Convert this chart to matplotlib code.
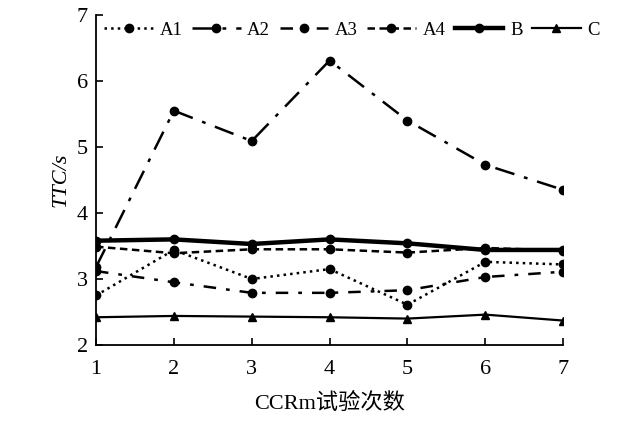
import numpy as np
import matplotlib
matplotlib.use("Agg")
import matplotlib.pyplot as plt

# ── data ──────────────────────────────────────────────────────────────────────
runs = [1, 2, 3, 4, 5, 6, 7]
a1 = [2.75, 3.44, 3.00, 3.15, 2.61, 3.26, 3.22]
a2 = [3.18, 5.55, 5.09, 6.31, 5.40, 4.73, 4.35]
a3 = [3.12, 2.95, 2.79, 2.79, 2.83, 3.03, 3.11]
a4 = [3.49, 3.39, 3.45, 3.45, 3.40, 3.47, 3.43]
b = [3.58, 3.60, 3.53, 3.60, 3.54, 3.44, 3.44]
c = [2.42, 2.44, 2.43, 2.42, 2.40, 2.46, 2.37]
labels = ["A1", "A2", "A3", "A4", "B", "C"]

plt.rcParams["font.family"] = ["Liberation Serif", "Noto Sans CJK SC"]

fig = plt.figure(figsize=(6.4, 4.22), dpi=100)
ax = fig.add_axes([0.15, 0.1825, 0.73, 0.782])

ms = 6
ax.plot(runs, a1, color="black", ls=":", lw=1.8, marker="o", ms=ms, label=labels[0])
ax.plot(runs, a2, color="black", ls=(0, (8, 4, 1.5, 4)), lw=1.8, marker="o", ms=ms, label=labels[1])
ax.plot(runs, a3, color="black", ls=(0, (5, 4, 1.5, 4)), lw=1.8, marker="o", ms=ms, label=labels[2])
ax.plot(runs, a4, color="black", ls=(0, (3, 1.8)), lw=1.8, marker="o", ms=ms, label=labels[3])
ax.plot(runs, b, color="black", ls="-", lw=3.2, marker="o", ms=ms, label=labels[4])
ax.plot(runs, c, color="black", ls="-", lw=1.6, marker="^", ms=ms, label=labels[5])

ax.set_xlim(1, 7)
ax.set_ylim(2, 7)
ax.set_xticks(runs)
ax.set_yticks([2, 3, 4, 5, 6, 7])
ax.tick_params(direction="in", length=5, width=1.2, labelsize=16, pad=6,
               top=False, right=False)
ax.tick_params(axis="x", pad=11)
ax.spines["right"].set_visible(False)
ax.spines["top"].set_visible(False)
for s in ["left", "bottom"]:
    ax.spines[s].set_linewidth(1.3)

ax.set_xlabel("CCRm试验次数", fontsize=16, labelpad=10)
ax.set_ylabel("TTC/s", fontsize=16, fontstyle="italic", labelpad=4)

leg = ax.legend(ncol=6, loc="center", bbox_to_anchor=(0.548, 0.953),
                fontsize=13.5, handlelength=2.6, handletextpad=0.35,
                columnspacing=0.5, borderpad=0.1, frameon=False)

plt.savefig("out.png", dpi=100)
plt.close()
